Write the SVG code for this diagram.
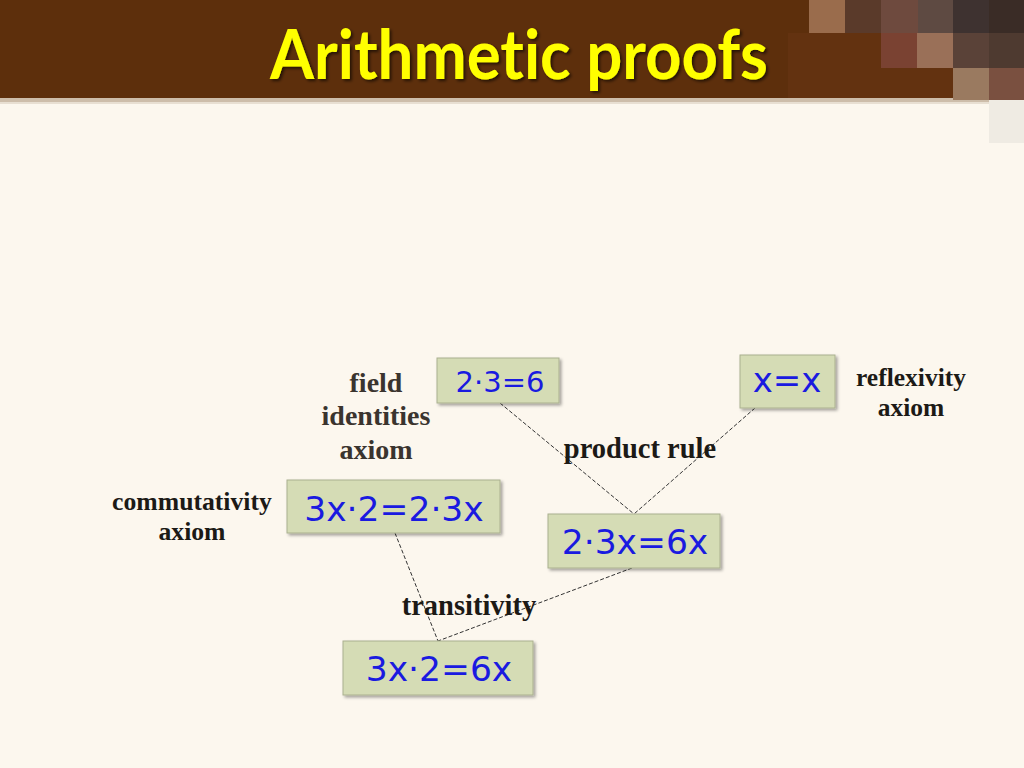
<svg xmlns="http://www.w3.org/2000/svg" width="1024" height="768" viewBox="0 0 1024 768">
<defs>
<filter id="sh" x="-10%" y="-10%" width="130%" height="140%">
<feDropShadow dx="2" dy="2" stdDeviation="1.5" flood-color="#000" flood-opacity="0.35"/>
</filter>
<filter id="tsh" x="-5%" y="-20%" width="110%" height="150%">
<feDropShadow dx="2" dy="2" stdDeviation="1.5" flood-color="#000" flood-opacity="0.6"/>
</filter>
<style>
.box{fill:#d5dcb5;stroke:#aab08f;stroke-width:1;filter:url(#sh)}
.eq{font-family:"DejaVu Sans",Verdana,sans-serif;fill:#1a1ae0;text-anchor:middle}
.lbl{font-family:"Liberation Serif","Times New Roman",serif;font-weight:bold;fill:#1c1a16;text-anchor:middle}
.con{stroke:#333;stroke-width:1;stroke-dasharray:4 2;fill:none}
</style>
</defs>
<rect width="1024" height="768" fill="#fcf7ee"/>
<!-- header -->
<rect x="0" y="0" width="1024" height="98" fill="#5d2f0c"/>
<rect x="788" y="33" width="165" height="65" fill="#633210"/>
<rect x="0" y="98" width="1024" height="4" fill="#cdbdaa"/>
<rect x="0" y="102" width="1024" height="2" fill="#e8dfd2"/>
<g id="tiles">
<rect x="809" y="0" width="36" height="33" fill="#9a6c4c"/>
<rect x="845" y="0" width="36" height="33" fill="#5a3a2a"/>
<rect x="881" y="0" width="37" height="33" fill="#6e4a3e"/>
<rect x="918" y="0" width="35" height="33" fill="#5e4a42"/>
<rect x="953" y="0" width="36" height="33" fill="#3e3230"/>
<rect x="989" y="0" width="35" height="33" fill="#3a2c26"/>
<rect x="881" y="33" width="36" height="35" fill="#7a4232"/>
<rect x="917" y="33" width="36" height="35" fill="#9a7058"/>
<rect x="953" y="33" width="36" height="35" fill="#5a4238"/>
<rect x="989" y="33" width="35" height="35" fill="#4e3a30"/>
<rect x="953" y="68" width="36" height="32" fill="#9a7a60"/>
<rect x="989" y="68" width="35" height="32" fill="#7a5040"/>
<rect x="989" y="100" width="35" height="43" fill="#efebe3"/>
</g>
<text x="519" y="79" font-family="Lato,'Open Sans',sans-serif" font-weight="bold" font-size="68" fill="#ffff00" text-anchor="middle" textLength="498" lengthAdjust="spacingAndGlyphs" filter="url(#tsh)" style="font-variant-ligatures:none;font-feature-settings:'liga' 0">Arithmetic proofs</text>

<g id="connectors">
<line class="con" x1="500" y1="403" x2="634" y2="514"/>
<line class="con" x1="755" y1="408" x2="634" y2="514"/>
<line class="con" x1="395" y1="533" x2="438" y2="641"/>
<line class="con" x1="632" y1="568" x2="438" y2="641"/>
</g>

<g id="n-236">
<rect class="box" x="437" y="358" width="122" height="45"/>
<text class="eq" x="500" y="392" font-size="29">2·3=6</text>
</g>
<g id="n-xx">
<rect class="box" x="740" y="355" width="95" height="53"/>
<text class="eq" x="787" y="392" font-size="34">x=x</text>
</g>
<g id="n-comm">
<rect class="box" x="287" y="480" width="213" height="53"/>
<text class="eq" x="394" y="521" font-size="34.5">3x·2=2·3x</text>
</g>
<g id="n-prod">
<rect class="box" x="548" y="514" width="172" height="54"/>
<text class="eq" x="635" y="554" font-size="34.5">2·3x=6x</text>
</g>
<g id="n-trans">
<rect class="box" x="343" y="641" width="190" height="54"/>
<text class="eq" x="439" y="681" font-size="34.5">3x·2=6x</text>
</g>

<g id="labels">
<text class="lbl" x="376" y="392" font-size="28" style="fill:#3a342e">field</text>
<text class="lbl" x="376" y="425" font-size="28" style="fill:#3a342e">identities</text>
<text class="lbl" x="376" y="459" font-size="28" style="fill:#3a342e">axiom</text>
<text class="lbl" x="640" y="458" font-size="28.5">product rule</text>
<text class="lbl" x="911" y="386" font-size="25.5">reflexivity</text>
<text class="lbl" x="911" y="416" font-size="25.5">axiom</text>
<text class="lbl" x="192" y="510" font-size="25.7">commutativity</text>
<text class="lbl" x="192" y="540" font-size="25.7">axiom</text>
<text class="lbl" x="469" y="615" font-size="28.5">transitivity</text>
</g>
</svg>
